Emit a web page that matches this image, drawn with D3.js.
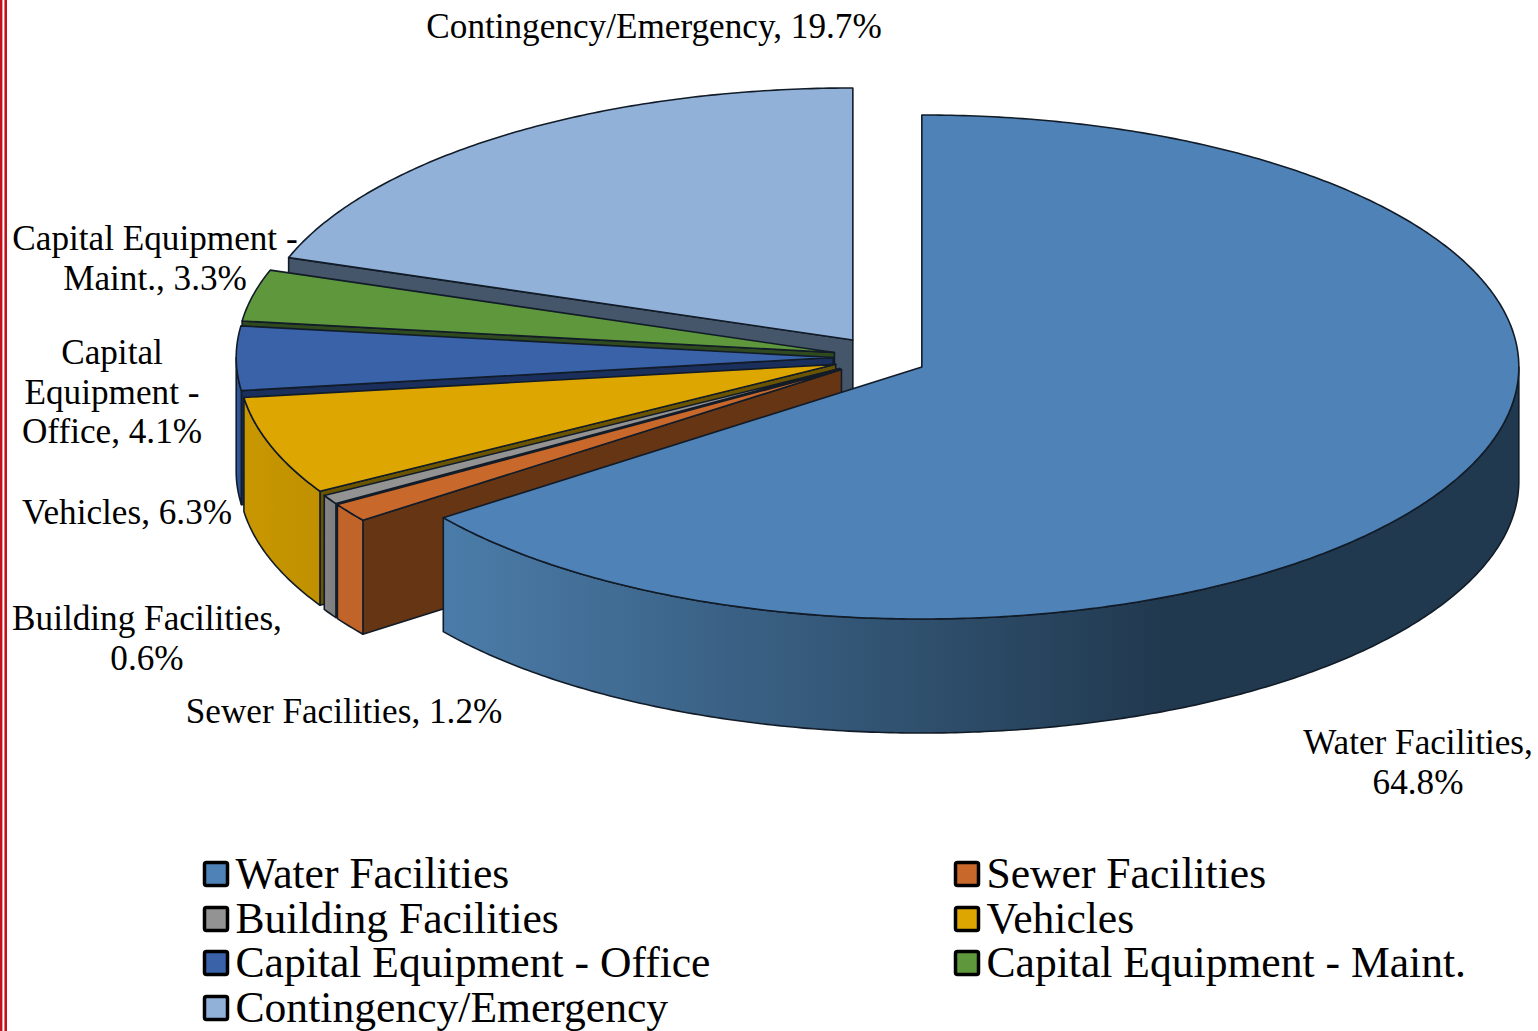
<!DOCTYPE html>
<html><head><meta charset="utf-8">
<script src="https://cdn.jsdelivr.net/npm/d3@7/dist/d3.min.js"></script>
<style>html,body{margin:0;padding:0;background:#fff;overflow:hidden}svg{display:block}
text{font-family:"Liberation Serif",serif;fill:#000}</style></head><body>
<svg id="c" width="1538" height="1031"></svg>
<script>
const categories=["Water Facilities","Sewer Facilities","Building Facilities","Vehicles","Capital Equipment - Office","Capital Equipment - Maint.","Contingency/Emergency"];
const values=[64.8,1.2,0.6,6.3,4.1,3.3,19.7];
const topColors=["#4f82b6","#c8682b","#939393","#dea600","#3a62a9","#5f973c","#92b1d8"];
const sideStart=["#4b7ca9","#c0642a","#858585","#c89700","#2f5a9a","#4d7a30","#7f9abd"];
const sideEnd=["#21394f","#c0642a","#7d7d7d","#c09000","#2a5090","#4d7a30","#7f9abd"];
const wallColors=["#2c4a68","#663514","#454545","#6b5400","#1b2f5c","#2f4a1e","#45566b"];
const labelLines=[["Water Facilities,","64.8%"],["Sewer Facilities, 1.2%"],["Building Facilities,","0.6%"],["Vehicles, 6.3%"],["Capital","Equipment -","Office, 4.1%"],["Capital Equipment -","Maint., 3.3%"],["Contingency/Emergency, 19.7%"]];
const labelCentres=[[1418,754],[344,723],[147,630],[127,524],[112,364],[155,250],[654,38]];
const legendCols=[203,954], legendRows=[874,919,963,1008];

const svg=d3.select("#c");
const defs=svg.append("defs");
// page border
svg.append("rect").attr("x",0).attr("y",0).attr("width",2.4).attr("height",1031).attr("fill","#c4101a");
svg.append("rect").attr("x",4.4).attr("y",0).attr("width",2.6).attr("height",1031).attr("fill","#c4101a");

const cx=880,cy=357.4,rx=597,ry=252,depth=114,exX=46.8,exY=21.4;
const pie=d3.pie().sort(null).value(d=>d)(values);
const line=d3.line();
const px=a=>Math.sin(a)*rx, py=a=>-Math.cos(a)*ry;
const slices=pie.map((p,i)=>{
  const mid=(p.startAngle+p.endAngle)/2;
  return {i,a0:p.startAngle,a1:p.endAngle,ox:cx+exX*Math.sin(mid),oy:cy-exY*Math.cos(mid)};
});
const edge="#121c28", sw=1.6;
function arcPts(s,a0,a1,dy){
  const n=Math.max(2,Math.ceil((a1-a0)/0.01));
  return d3.range(n+1).map(k=>{const a=a0+(a1-a0)*k/n;return [s.ox+px(a),s.oy+py(a)+dy];});
}
function wall(g,s,a){
  const pts=[[s.ox,s.oy],[s.ox+px(a),s.oy+py(a)],[s.ox+px(a),s.oy+py(a)+depth],[s.ox,s.oy+depth]];
  g.append("path").attr("d",line(pts)+"Z").attr("fill",wallColors[s.i]).attr("stroke",edge).attr("stroke-width",sw).attr("stroke-linejoin","round");
}
// draw back to front: last slice first, water last
[6,5,4,3,2,1,0].forEach(i=>{
  const s=slices[i],g=svg.append("g");
  if(i!==0) wall(g,s,s.a0);
  const lo=Math.max(s.a0,Math.PI/2),hi=Math.min(s.a1,Math.PI*1.5);
  if(hi>lo){
    const top=arcPts(s,lo,hi,0),bot=arcPts(s,lo,hi,depth).reverse();
    const id="side"+i,xs=top.map(d=>d[0]);
    const grad=defs.append("linearGradient").attr("id",id).attr("gradientUnits","userSpaceOnUse")
      .attr("x1",d3.min(xs)).attr("x2",i===0?d3.min(xs)+720:d3.max(xs)).attr("y1",0).attr("y2",0);
    grad.append("stop").attr("offset",0).attr("stop-color",sideStart[i]);
    grad.append("stop").attr("offset",1).attr("stop-color",sideEnd[i]);
    g.append("path").attr("d",line(top.concat(bot))+"Z").attr("fill",`url(#${id})`).attr("stroke",edge).attr("stroke-width",sw).attr("stroke-linejoin","round");
  }
  const topPts=[[s.ox,s.oy]].concat(arcPts(s,s.a0,s.a1,0));
  g.append("path").attr("d",line(topPts)+"Z").attr("fill",topColors[i]).attr("stroke",edge).attr("stroke-width",sw).attr("stroke-linejoin","round");
});
// labels
const LH=39.5;
labelLines.forEach((ls,i)=>{
  const [x,y]=labelCentres[i];
  ls.forEach((t,k)=>{
    svg.append("text").attr("x",x).attr("y",y+k*LH).attr("text-anchor","middle").attr("font-size",35.2).text(t);
  });
});
// legend
categories.forEach((c,i)=>{
  const x=legendCols[i%2],y=legendRows[Math.floor(i/2)];
  svg.append("rect").attr("x",x+1.5).attr("y",y-11.5).attr("width",23).attr("height",23).attr("rx",2).attr("fill",topColors[i]).attr("stroke","#000").attr("stroke-width",3.5);
  svg.append("text").attr("x",x+32.5).attr("y",y+14).attr("font-size",43.6).text(c);
});
</script></body></html>
